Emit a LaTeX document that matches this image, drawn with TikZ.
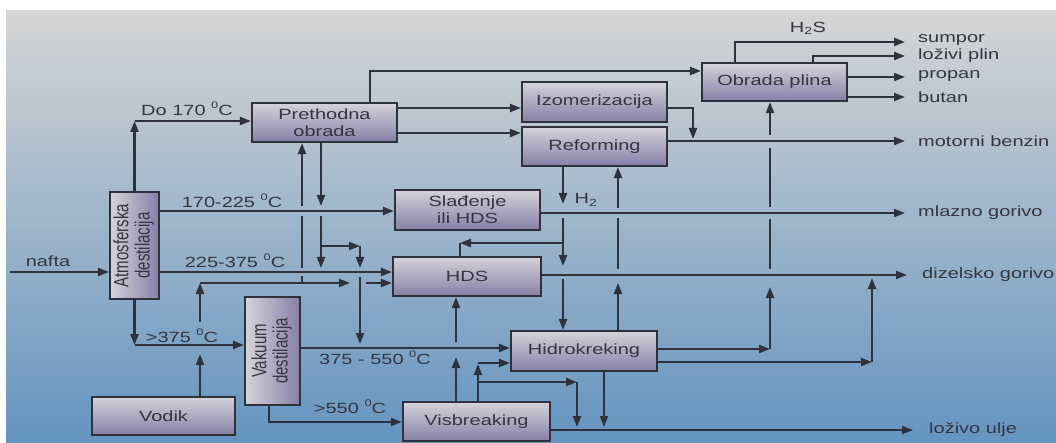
\documentclass[tikz,border=0pt]{standalone}
\usepackage{fontspec}
\setmainfont{Liberation Sans}[FakeStretch=1.35]
\newfontfamily\rotfont{Liberation Sans}
\usetikzlibrary{arrows.meta}
\definecolor{bgtop}{RGB}{214,213,212}
\definecolor{bgmid}{RGB}{168,184,197}
\definecolor{bgbot}{RGB}{100,148,192}
\definecolor{boxtop}{RGB}{212,210,218}
\definecolor{boxbot}{RGB}{134,128,166}
\definecolor{ink}{RGB}{46,50,60}
\definecolor{txt}{RGB}{52,54,64}
\tikzset{
  ln/.style={draw=ink, line width=2.1pt},
  arr/.style={ln, -{Triangle[length=11pt,width=8pt]}},
  box/.style={draw=ink, line width=2.1pt, top color=boxtop, bottom color=boxbot,
    text=txt, font=\fontsize{14.8}{17}\selectfont, align=center, inner sep=0pt},
  vbox/.style={draw=ink, line width=2.1pt, left color=boxtop, right color=boxbot,
    text=txt, inner sep=0pt},
  lbl/.style={text=txt, font=\fontsize{14.8}{17}\selectfont, inner sep=0pt},
}
\newcommand{\dgr}{\raisebox{0.45em}{\fontsize{9.5}{10}\selectfont 0}}
\begin{document}
\begin{tikzpicture}[x=1pt,y=-1pt]
\useasboundingbox (0,0) rectangle (1056,443);
\fill[white] (0,0) rectangle (1056,443);
\shade[top color=bgtop, middle color=bgmid, bottom color=bgbot] (6,11) rectangle (1056,443);

% boxes
\node[vbox, minimum width=49pt, minimum height=107pt] (atm) at (134.5,245.5)
  {\scalebox{1.38}[1]{\rotatebox{90}{\rotfont\fontsize{15}{15}\selectfont\begin{tabular}{@{}c@{}}Atmosferska\\destilacija\end{tabular}}}};
\node[vbox, minimum width=55pt, minimum height=108pt] (vak) at (272.5,351)
  {\scalebox{1.38}[1]{\rotatebox{90}{\rotfont\fontsize{15}{15}\selectfont\begin{tabular}{@{}c@{}}Vakuum\\destilacija\end{tabular}}}};
\node[box, minimum width=145pt, minimum height=39pt] (pre) at (324.5,122.5) {Prethodna\\obrada};
\node[box, minimum width=145pt, minimum height=40pt] (izo) at (594.5,102) {Izomerizacija};
\node[box, minimum width=145pt, minimum height=39pt] (ref) at (594.5,146.5) {Reforming};
\node[box, minimum width=145pt, minimum height=38pt] (obr) at (774.5,82) {Obrada plina};
\node[box, minimum width=145pt, minimum height=40pt] (sla) at (467.5,210) {Slađenje\\ili HDS};
\node[box, minimum width=148pt, minimum height=39pt] (hds) at (467,276.5) {HDS};
\node[box, minimum width=146pt, minimum height=40pt] (hk) at (584,351) {Hidrokreking};
\node[box, minimum width=147pt, minimum height=39pt] (vis) at (476.5,421.5) {Visbreaking};
\node[box, minimum width=143pt, minimum height=38pt] (vod) at (163.5,416) {Vodik};

% output labels
\node[lbl, anchor=west] (tsum) at (918,40) {sumpor};
\node[lbl, anchor=west] (tloz) at (918,56) {loživi plin};
\node[lbl, anchor=west] (tpro) at (918,76) {propan};
\node[lbl, anchor=west] (tbut) at (918,97) {butan};
\node[lbl, anchor=west] (tmot) at (918,141) {motorni benzin};
\node[lbl, anchor=west] (tmla) at (918,213) {mlazno gorivo};
\node[lbl, anchor=west] (tdiz) at (922,275) {dizelsko gorivo};
\node[lbl, anchor=west] (tlu) at (929,430) {loživo ulje};

% other labels
\node[lbl] (lnafta) at (48,261) {nafta};
\node[lbl] (ldo) at (187,109) {Do 170 \dgr C};
\node[lbl] (l170) at (232,201) {170-225 \dgr C};
\node[lbl] (l225) at (235,261) {225-375 \dgr C};
\node[lbl] (l375) at (182,336) {>375 \dgr C};
\node[lbl] (l550) at (375,358) {375 - 550 \dgr C};
\node[lbl] (l550b) at (350,407) {>550 \dgr C};
\node[lbl] (lh2) at (586,200) {H\textsubscript{2}};
\node[lbl] (lh2s) at (808,28) {H\textsubscript{2}S};

% nafta
\coordinate (in) at (10,272);
\draw[arr] (in) -- (atm.west |- in);
% Do 170
\draw[arr] (atm.north) -- (atm.north |- 0,121);
\draw[arr] (atm.north |- 0,121) -- (pre.west |- 0,121);
% 170-225
\draw[arr] (atm.east |- 0,211) -- (sla.west |- 0,211);
% 225-375
\draw[arr] (atm.east |- 0,272) -- (hds.west |- 0,272);
% >375
\draw[arr] (atm.south) -- (atm.south |- 0,345);
\draw[arr] (atm.south |- 0,345) -- (vak.west |- 0,345);
% Vodik
\draw[arr] (200,0 |- vod.north) -- (200,354);
\draw[arr] (200,322) -- (200,283);
\draw[arr] (200,283) -- (350,283);
\draw[arr] (366,283) -- (hds.west |- 0,283);
% hydrogen to Prethodna obrada
\draw[ln] (302,283) -- (302,276);
\draw[ln] (302,268) -- (302,216);
\draw[arr] (302,206) -- (302,0 |- pre.south);
% Prethodna obrada down
\draw[arr] (321,0 |- pre.south) -- (321,206);
\draw[arr] (321,216) -- (321,268);
\draw[arr] (321,246) -- (360,246);
\draw[arr] (360,246) -- (360,268);
\draw[arr] (360,277) -- (360,344);
% Prethodna -> Izomerizacija, Reforming, Obrada plina
\draw[arr] (pre.east |- 0,108) -- (izo.west |- 0,108);
\draw[arr] (pre.east |- 0,133) -- (ref.west |- 0,133);
\draw[arr] (370,0 |- pre.north) -- (370,71) -- (obr.west |- 0,71);
% Izomerizacija -> benzin
\draw[arr] (izo.east |- 0,108) -- (693,108) -- (693,139);
% Reforming -> motorni benzin
\draw[arr] (ref.east |- 0,141) -- ([xshift=-13pt]tmot.west);
% H2 from Reforming
\draw[arr] (563,0 |- ref.south) -- (563,204);
\draw[arr] (563,218) -- (563,266);
\draw[arr] (563,243) -- (460,243);
\draw[ln] (460,243) -- (460,0 |- hds.north);
\draw[arr] (563,279) -- (563,0 |- hk.north);
% Hidrokreking -> Reforming
\draw[arr] (618,0 |- hk.north) -- (618,283);
\draw[ln] (618,269) -- (618,218);
\draw[arr] (618,208) -- (618,0 |- ref.south);
% Sladjenje -> mlazno gorivo
\draw[arr] (sla.east |- 0,213) -- ([xshift=-13pt]tmla.west);
% HDS -> dizelsko gorivo
\draw[arr] (hds.east |- 0,275) -- ([xshift=-15pt]tdiz.west);
% Hidrokreking -> Obrada plina / dizel
\draw[arr] (hk.east |- 0,349) -- (770,349);
\draw[arr] (770,349) -- (770,287);
\draw[ln] (770,269) -- (770,219);
\draw[ln] (770,207) -- (770,148);
\draw[arr] (770,135) -- (770,0 |- obr.south);
\draw[arr] (hk.east |- 0,362) -- (872,362);
\draw[arr] (872,362) -- (872,278);
% Vakuum -> Hidrokreking
\draw[arr] (vak.east |- 0,348) -- (hk.west |- 0,348);
% Visbreaking -> HDS
\draw[arr] (456,0 |- vis.north) -- (456,357);
\draw[arr] (456,342) -- (456,0 |- hds.south);
% Visbreaking -> Hidrokreking, lozivo ulje
\draw[arr] (478,0 |- vis.north) -- (478,364);
\draw[arr] (478,363) -- (hk.west |- 0,363);
\draw[arr] (478,382) -- (577,382);
\draw[arr] (577,382) -- (577,427);
\draw[arr] (604,0 |- hk.south) -- (604,427);
\draw[arr] (vis.east |- 0,430) -- ([xshift=-16pt]tlu.west);
% Vakuum -> Visbreaking
\draw[arr] (269,0 |- vak.south) -- (269,422) -- (vis.west |- 0,422);
% Obrada plina outputs
\draw[arr] (735,0 |- obr.north) -- (735,42) -- ([xshift=-13pt]tsum.west |- 0,42);
\draw[arr] (813,0 |- obr.north) -- (813,56) -- ([xshift=-13pt]tloz.west);
\draw[arr] (obr.east |- 0,77) -- ([xshift=-13pt]tpro.west |- 0,77);
\draw[arr] (obr.east |- 0,97) -- ([xshift=-13pt]tbut.west);
\end{tikzpicture}
\end{document}
